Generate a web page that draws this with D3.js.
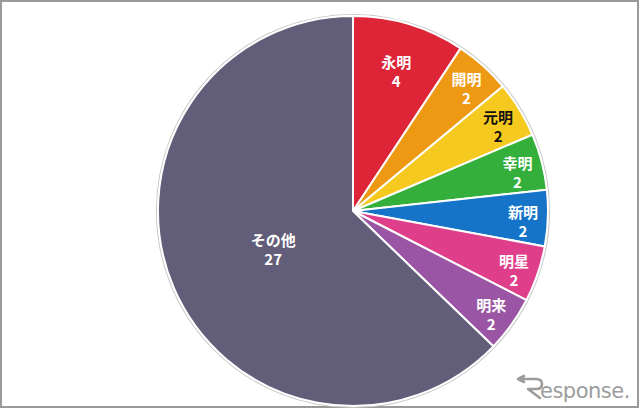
<!DOCTYPE html>
<html>
<head>
<meta charset="utf-8">
<script src="https://cdn.jsdelivr.net/npm/d3@7"></script>
<style>
  html, body { margin: 0; padding: 0; background: #fff; }
  svg { display: block; }
</style>
</head>
<body>
<script>
// Slice names, counts and fill colours, in clockwise order from 12 o'clock
const names  = ["永明", "開明", "元明", "幸明", "新明", "明星", "明来", "その他"];
const counts = [4, 2, 2, 2, 2, 2, 2, 27];
const fills  = ["#DE2437", "#EE9913", "#F6C920", "#35AF3B", "#1573C8", "#DE3E8A", "#9A55A4", "#625E79"];
const labelInk = ["#fff", "#fff", "#111", "#fff", "#fff", "#fff", "#fff", "#fff"];

const W = 640, H = 409;
const cx = 353, cy = 211, R = 195;

const svg = d3.select("body").append("svg")
  .attr("width", W).attr("height", H);

// frame
svg.append("rect")
  .attr("x", 1).attr("y", 1).attr("width", W - 3).attr("height", H - 3)
  .attr("fill", "#fff").attr("stroke", "#9a9a9a").attr("stroke-width", 2);

const data = names.map((n, i) => ({ name: n, value: counts[i], fill: fills[i], ink: labelInk[i] }));

const pie = d3.pie().value(d => d.value).sort(null);
const arcs = pie(data);
const arc = d3.arc().innerRadius(0).outerRadius(R);

const g = svg.append("g").attr("transform", `translate(${cx},${cy})`);

// soft outer rim
g.append("circle").attr("r", R + 1.5)
  .attr("fill", "none").attr("stroke", "#c8c8c8").attr("stroke-width", 1.2);

g.selectAll("path.slice").data(arcs).join("path")
  .attr("class", "slice")
  .attr("d", arc)
  .attr("fill", d => d.data.fill)
  .attr("stroke", "#fff")
  .attr("stroke-width", 2)
  .attr("stroke-linejoin", "round");

// label radius depends on how wide the slice is
function labelRadius(d) {
  const span = d.endAngle - d.startAngle;
  if (span > Math.PI / 2) return R * 0.445;
  if (span > 0.4) return R * 0.77;
  return R - 25;
}

const labels = g.selectAll("g.lab").data(arcs).join("g")
  .attr("class", "lab")
  .attr("transform", d => {
    const a = (d.startAngle + d.endAngle) / 2;
    const r = labelRadius(d);
    return `translate(${r * Math.sin(a)},${-r * Math.cos(a) + 5})`;
  });

labels.append("text")
  .attr("text-anchor", "middle")
  .attr("y", -4)
  .attr("fill", d => d.data.ink)
  .attr("font-family", "'Noto Sans CJK JP', 'Noto Sans', sans-serif")
  .attr("font-weight", "bold")
  .attr("font-size", 15)
  .text(d => d.data.name);

labels.append("text")
  .attr("text-anchor", "middle")
  .attr("y", 15)
  .attr("fill", d => d.data.ink)
  .attr("font-family", "'Noto Sans CJK JP', 'Noto Sans', sans-serif")
  .attr("font-weight", "bold")
  .attr("font-size", 15)
  .text(d => d.data.value);

// watermark
const wm = svg.append("g").attr("transform", "translate(514,398)");
wm.append("path")
  .attr("d", "M10,-16 L4,-19 L10,-22 M4,-19 L22,-19 Q28,-19 28,-14 Q28,-9 22,-9 L14,-9 L26,0")
  .attr("fill", "none").attr("stroke", "#9c9c9c").attr("stroke-width", 2.6)
  .attr("stroke-linecap", "round").attr("stroke-linejoin", "round");
wm.append("text")
  .attr("x", 26).attr("y", 0)
  .attr("fill", "#9c9c9c")
  .attr("font-family", "'DejaVu Sans', sans-serif")
  .attr("font-size", 21)
  .attr("letter-spacing", -0.5)
  .text("esponse.");
</script>
</body>
</html>
